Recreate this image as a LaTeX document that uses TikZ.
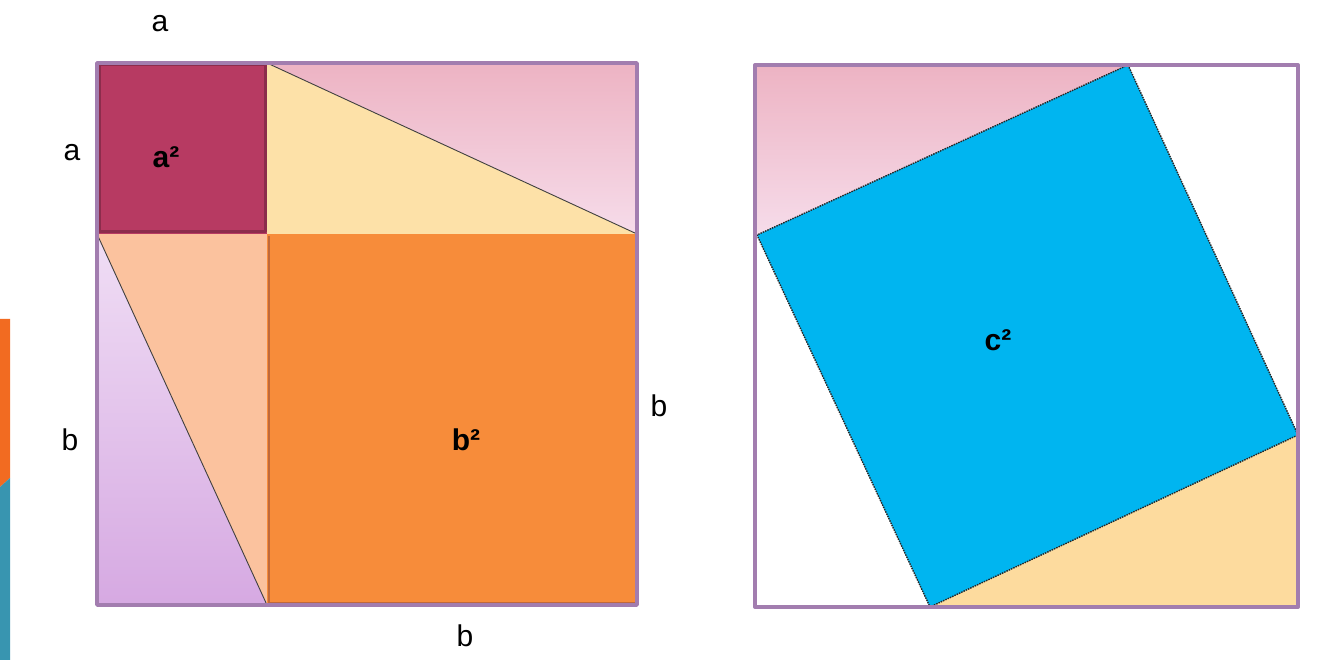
\documentclass[tikz,border=0pt]{standalone}
\usepackage{fontspec}
\setmainfont{Liberation Sans}
\usetikzlibrary{calc}
\definecolor{frame}{HTML}{A27DAF}
\definecolor{wine}{HTML}{B73A62}
\definecolor{dkwine}{HTML}{8C2C4C}
\definecolor{rosetop}{HTML}{EDB3C3}
\definecolor{rosemid}{HTML}{E49AB0}
\definecolor{rosebot}{HTML}{F6DCEA}
\definecolor{butter}{HTML}{FDE1A8}
\definecolor{peach}{HTML}{FBC29E}
\definecolor{lilactop}{HTML}{F0DEF5}
\definecolor{lilacbot}{HTML}{D6A9E2}
\definecolor{tangerine}{HTML}{F78C3A}
\definecolor{rust}{HTML}{C0693A}
\definecolor{sky}{HTML}{00B5F0}
\definecolor{sandy}{HTML}{FDDB9E}
\definecolor{barorange}{HTML}{F26B21}
\definecolor{barteal}{HTML}{3895B0}

\begin{document}
\begin{tikzpicture}[x=1pt, y=-1pt, line join=round]
\tikzset{
  side/.style={font=\fontsize{30}{32}\selectfont, text=black},
  area/.style={font=\fontsize{30}{32}\selectfont\bfseries, text=black},
  cut/.style={draw=black!75, line width=0.9pt}
}

% Canvas
\useasboundingbox (0,0) rectangle (1334,660);
\fill[white] (0,0) rectangle (1334,660);

% Side bars
\fill[barorange] (0,319) -- (10,319) -- (10,478) -- (0,487) -- cycle;
\fill[barteal] (0,487) -- (10,478) -- (10,660) -- (0,660) -- cycle;

% =========== LEFT: a^2 + b^2 ===========
\coordinate (L1) at (97,63);
\coordinate (L2) at (637,63);
\coordinate (L3) at (637,605);
\coordinate (L4) at (97,605);
\coordinate (Lm) at (267,234);

% Top strip above the diagonal
\shade[top color=rosetop, middle color=rosemid, bottom color=rosebot]
  (267,63) -- (L2) -- (637,234) -- cycle;
% Triangle under the diagonal
\fill[butter] (267,63) -- (637,234) -- (Lm) -- cycle;
% Left strip
\shade[top color=lilactop, bottom color=lilacbot]
  (97,234) -- (267,605) -- (L4) -- cycle;
\fill[peach] (97,234) -- (Lm) -- (267,605) -- cycle;

% Squares
\fill[wine] (L1) rectangle (Lm);
\draw[dkwine, line width=3pt] (99,65) rectangle (265,232);
\fill[tangerine] (Lm) rectangle (L3);
\draw[rust, line width=2.5pt] (269,236) -- (269,603) -- (635,603);

% Diagonals
\draw[cut] (267,63) -- (637,234);
\draw[cut] (97,234) -- (267,605);

% Frame
\draw[frame, line width=3.5pt] (L1) rectangle (L3);

% Labels
\node[side] (topa) at (160,24) {a};
\node[side] (lefta) at (72,153) {a};
\node[side] (leftb) at (70,440) {b};
\node[side] (rightb) at (659,406) {b};
\node[side] (botb) at (465,636) {b};
\node[area] (asq) at (166,157) {a²};
\node[area] (bsq) at (466,440) {b²};

% =========== RIGHT: c^2 ===========
\coordinate (R1) at (755,65);
\coordinate (R3) at (1298,607);

% Corner triangles
\shade[top color=rosetop, middle color=rosemid, bottom color=rosebot]
  (757,65) -- (1128,65) -- (757,235) -- cycle;
\fill[sandy] (930,607) -- (1298,607) -- (1298,435) -- cycle;

% Tilted square
\fill[sky] (1128,65) -- (1298,435) -- (930,607) -- (757,235) -- cycle;
\draw[black!85, line width=1.4pt, dash pattern=on 1.5pt off 1pt]
  (1128,65) -- (1298,435) -- (930,607) -- (757,235) -- cycle;

% Frame
\draw[frame, line width=4pt] (R1) rectangle (R3);

\node[area] (csq) at (998,340) {c²};

\end{tikzpicture}
\end{document}
